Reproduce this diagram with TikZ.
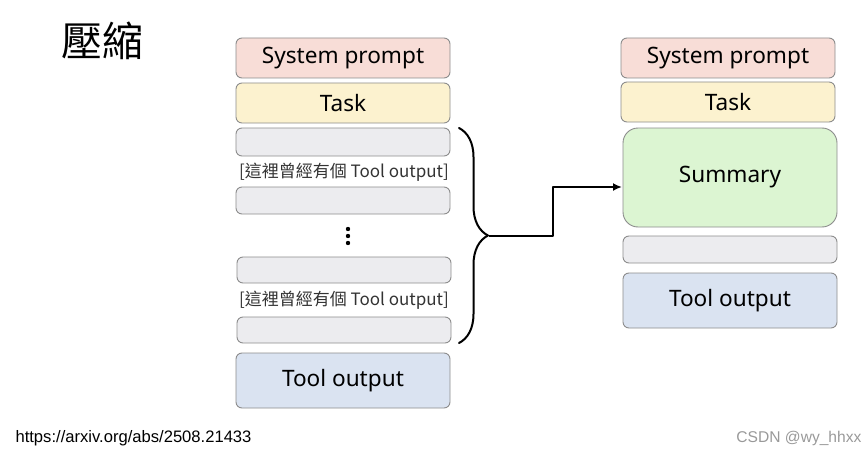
\documentclass[tikz,border=0pt]{standalone}
\usepackage{fontspec}
\setmainfont{Noto Sans}
\newfontfamily\cjkfont{Noto Sans CJK TC}
\newfontfamily\wmfont{Liberation Sans}
\usepackage{xcolor}
\usetikzlibrary{arrows.meta,decorations.pathreplacing}

\definecolor{sysfill}{HTML}{F8DDD7}
\definecolor{taskfill}{HTML}{FCF2CF}
\definecolor{oldfill}{HTML}{ECECEF}
\definecolor{toolfill}{HTML}{DAE3F1}
\definecolor{sumfill}{HTML}{DCF5D2}
\definecolor{edgegray}{HTML}{8C8C8C}

\tikzset{
  blk/.style={draw=edgegray, line width=0.9pt, rounded corners=6pt, inner sep=0pt,
              minimum width=214pt, font=\fontsize{22.6}{22.6}\selectfont},
  oldlabel/.style={font=\cjkfont\fontsize{17}{17}\selectfont, text=black!80},
}

\begin{document}
\begin{tikzpicture}[x=1pt, y=-1pt, line join = round, line cap = round]

  \useasboundingbox (0,0) rectangle (865,452);

  % title
  \node (title) at (102,41) {\cjkfont\fontsize{41}{41}\selectfont 壓縮};

  % before
  \node [blk, fill=sysfill, minimum height=40pt] (sysL) at (343,58) {System prompt};
  \node [blk, fill=taskfill, minimum height=40pt] (taskL) at (343,103) {Task};
  \node [blk, fill=oldfill, minimum height=28pt] (oldA) at (343,142) {};
  \node [oldlabel] (labA) at (344,172) {[這裡曾經有個 Tool output]};
  \node [blk, fill=oldfill, minimum height=27pt] (oldB) at (343,200.5) {};
  \foreach \y in {229,236,243}
    \fill (348,\y) circle [radius=2.2];
  \node [blk, fill=oldfill, minimum height=26pt] (oldC) at (344,270) {};
  \node [oldlabel] (labB) at (344,300) {[這裡曾經有個 Tool output]};
  \node [blk, fill=oldfill, minimum height=26pt] (oldD) at (344,330) {};
  \node [blk, fill=toolfill, minimum height=55pt] (toolL) at (343,380.5) {Tool output};

  % after
  \node [blk, fill=sysfill, minimum height=40pt] (sysR) at (728,58) {System prompt};
  \node [blk, fill=taskfill, minimum height=40pt] (taskR) at (728,102) {Task};
  \node [blk, fill=sumfill, minimum height=99pt, rounded corners=15pt] (sum) at (730,177.5) {Summary};
  \node [blk, fill=oldfill, minimum height=27pt] (oldR) at (730,249.5) {};
  \node [blk, fill=toolfill, minimum height=55pt] (toolR) at (730,300.5) {Tool output};

  % brace and arrow
  \coordinate (btop) at (459,128);
  \coordinate (bbot) at (459,343);
  \coordinate (btip) at (489,235.5);
  \coordinate (tgt) at (622,187);
  \draw [line width=2pt, decorate, decoration={brace, amplitude=29pt, aspect=0.5}] (btop) -- (bbot);
  \draw [line width=2pt, line cap=butt, -{Latex[length=9pt, width=8pt]}] (btip) -- ++(64,0) |- (tgt);

  % footer
  \node [anchor=west, font=\wmfont\fontsize{16.6}{16.6}\selectfont] (src) at (12,438) {https://arxiv.org/abs/2508.21433};
  \node [anchor=east, font=\wmfont\fontsize{15.6}{15.6}\selectfont, text=black!40] (wm) at (865,438) {CSDN @wy\_hhxx};

\end{tikzpicture}
\end{document}
